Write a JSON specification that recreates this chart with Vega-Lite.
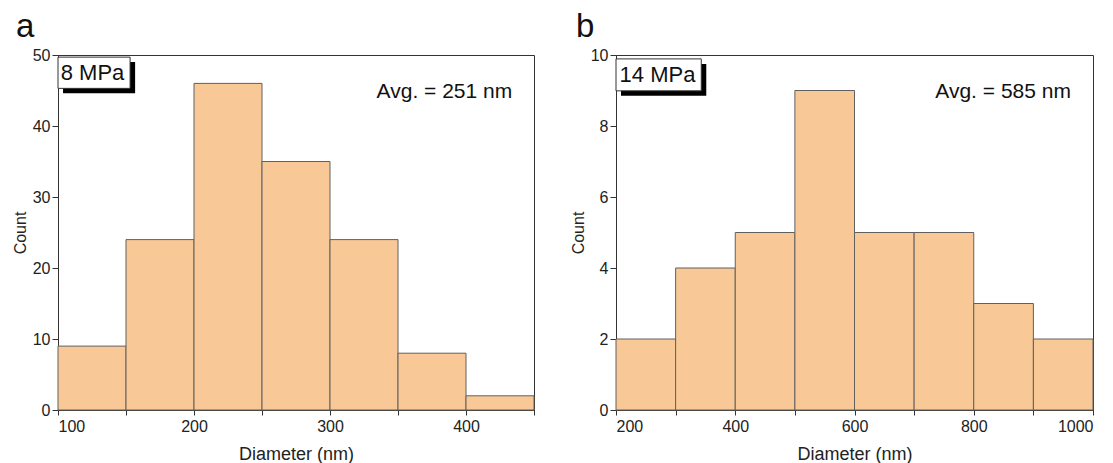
{
  "$schema": "https://vega.github.io/schema/vega-lite/v6.json",
  "padding": {"left": 11, "top": 10, "right": 1, "bottom": 0},
  "background": "white",
  "config": {
    "font": "Liberation Sans",
    "view": {"stroke": "#333", "strokeWidth": 1},
    "axis": {"domainColor": "#333", "tickColor": "#333", "labelColor": "#222", "titleColor": "#222", "labelFontSize": 16, "titleFontSize": 18, "titleFontWeight": "normal", "grid": false, "labelFont": "Liberation Sans", "titleFont": "Liberation Sans"},
    "axisX": {"labelPadding": 3, "titlePadding": 11},
    "axisY": {"labelPadding": 2, "titlePadding": 4, "titleFontSize": 16},
    "title": {"fontSize": 33, "fontWeight": "normal", "anchor": "start", "frame": "group", "font": "Liberation Sans", "color": "#111", "offset": 3}
  },
  "spacing": 34,
  "hconcat": [
    {
      "title": {"text": "a", "dx": -42},
      "width": 476,
      "height": 355,
      "layer": [
        {
          "data": {"values": [
            {"start": 100, "end": 150, "count": 9},
            {"start": 150, "end": 200, "count": 24},
            {"start": 200, "end": 250, "count": 46},
            {"start": 250, "end": 300, "count": 35},
            {"start": 300, "end": 350, "count": 24},
            {"start": 350, "end": 400, "count": 8},
            {"start": 400, "end": 450, "count": 2}
          ]},
          "mark": {"type": "rect", "fill": "#F9C897", "stroke": "#606060", "strokeWidth": 1},
          "encoding": {
            "x": {"field": "start", "type": "quantitative", "scale": {"domain": [100, 450], "nice": false, "zero": false},
              "axis": {"title": "Diameter (nm)", "format": "d", "values": [100, 150, 200, 250, 300, 350, 400, 450], "labelExpr": "datum.value % 100 === 0 ? datum.label : ''", "tickSize": 5}},
            "x2": {"field": "end"},
            "y": {"field": "count", "type": "quantitative", "scale": {"domain": [0, 50], "nice": false},
              "axis": {"title": "Count", "values": [0, 5, 10, 15, 20, 25, 30, 35, 40, 45, 50], "labelExpr": "datum.value % 10 === 0 ? datum.label : ''", "tickSize": {"condition": {"test": "datum.value % 10 === 0", "value": 6}, "value": 3}}},
            "y2": {"datum": 0}
          }
        },
        {
          "data": {"values": [{"label": "8 MPa", "avg": "Avg. = 251 nm"}]},
          "mark": {"type": "rect", "fill": "black"},
          "encoding": {"x": {"datum": 103.7}, "x2": {"datum": 156.7}, "y": {"datum": 49.0}, "y2": {"datum": 44.6}}
        },
        {
          "data": {"values": [{"label": "8 MPa", "avg": "Avg. = 251 nm"}]},
          "mark": {"type": "rect", "fill": "white", "stroke": "#333", "strokeWidth": 1},
          "encoding": {"x": {"datum": 100}, "x2": {"datum": 153}, "y": {"datum": 49.7}, "y2": {"datum": 45.3}}
        },
        {
          "data": {"values": [{"label": "8 MPa", "avg": "Avg. = 251 nm"}]},
          "mark": {"type": "text", "align": "left", "baseline": "middle", "fontSize": 22, "color": "#111"},
          "encoding": {"x": {"datum": 102}, "y": {"datum": 47.4}, "text": {"field": "label"}}
        },
        {
          "data": {"values": [{"label": "8 MPa", "avg": "Avg. = 251 nm"}]},
          "mark": {"type": "text", "align": "right", "baseline": "middle", "fontSize": 21, "color": "#111"},
          "encoding": {"x": {"datum": 434}, "y": {"datum": 44.8}, "text": {"field": "avg"}}
        }
      ]
    },
    {
      "title": {"text": "b", "dx": -40},
      "width": 477,
      "height": 355,
      "layer": [
        {
          "data": {"values": [
            {"start": 200, "end": 300, "count": 2},
            {"start": 300, "end": 400, "count": 4},
            {"start": 400, "end": 500, "count": 5},
            {"start": 500, "end": 600, "count": 9},
            {"start": 600, "end": 700, "count": 5},
            {"start": 700, "end": 800, "count": 5},
            {"start": 800, "end": 900, "count": 3},
            {"start": 900, "end": 1000, "count": 2}
          ]},
          "mark": {"type": "rect", "fill": "#F9C897", "stroke": "#606060", "strokeWidth": 1},
          "encoding": {
            "x": {"field": "start", "type": "quantitative", "scale": {"domain": [200, 1000], "nice": false, "zero": false},
              "axis": {"title": "Diameter (nm)", "format": "d", "values": [200, 300, 400, 500, 600, 700, 800, 900, 1000], "labelExpr": "datum.value % 200 === 0 ? datum.label : ''", "tickSize": 5}},
            "x2": {"field": "end"},
            "y": {"field": "count", "type": "quantitative", "scale": {"domain": [0, 10], "nice": false},
              "axis": {"title": "Count", "values": [0, 1, 2, 3, 4, 5, 6, 7, 8, 9, 10], "labelExpr": "datum.value % 2 === 0 ? datum.label : ''", "tickSize": {"condition": {"test": "datum.value % 2 === 0", "value": 6}, "value": 3}}},
            "y2": {"datum": 0}
          }
        },
        {
          "data": {"values": [{"label": "14 MPa", "avg": "Avg. = 585 nm"}]},
          "mark": {"type": "rect", "fill": "black"},
          "encoding": {"x": {"datum": 208.4}, "x2": {"datum": 351.4}, "y": {"datum": 9.75}, "y2": {"datum": 8.85}}
        },
        {
          "data": {"values": [{"label": "14 MPa", "avg": "Avg. = 585 nm"}]},
          "mark": {"type": "rect", "fill": "white", "stroke": "#333", "strokeWidth": 1},
          "encoding": {"x": {"datum": 200}, "x2": {"datum": 343}, "y": {"datum": 9.89}, "y2": {"datum": 8.99}}
        },
        {
          "data": {"values": [{"label": "14 MPa", "avg": "Avg. = 585 nm"}]},
          "mark": {"type": "text", "align": "left", "baseline": "middle", "fontSize": 22, "color": "#111"},
          "encoding": {"x": {"datum": 206}, "y": {"datum": 9.44}, "text": {"field": "label"}}
        },
        {
          "data": {"values": [{"label": "14 MPa", "avg": "Avg. = 585 nm"}]},
          "mark": {"type": "text", "align": "right", "baseline": "middle", "fontSize": 21, "color": "#111"},
          "encoding": {"x": {"datum": 963}, "y": {"datum": 8.96}, "text": {"field": "avg"}}
        }
      ]
    }
  ]
}
